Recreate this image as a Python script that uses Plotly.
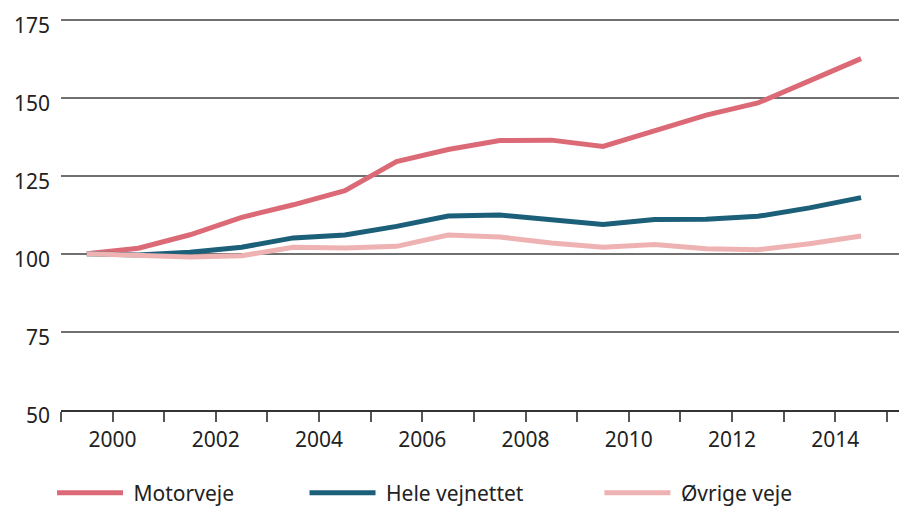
import plotly.graph_objects as go

# Index 2000 = 100
years = list(range(2000, 2016))
motorveje = [100, 101.8, 106.1, 111.7, 115.7, 120.2, 129.5, 133.4, 136.3, 136.4,
             134.4, 139.2, 144.4, 148.3, 155.5, 162.5]
hele_vejnettet = [100, 99.6, 100.5, 102.1, 105.1, 106.0, 108.8, 112.1, 112.4, 110.8,
                  109.4, 111.0, 111.1, 112.0, 114.7, 118.0]
oevrige_veje = [100, 99.3, 99.0, 99.4, 102.1, 101.9, 102.4, 106.0, 105.4, 103.5,
                102.1, 103.0, 101.6, 101.3, 103.2, 105.7]

series = [
    ("Motorveje", motorveje, "#dc6a76", 12),
    ("Hele vejnettet", hele_vejnettet, "#1b5f79", 13),
    ("Øvrige veje", oevrige_veje, "#efb2b2", 0),
]

tick_years = list(range(1999, 2016))
tick_text = [str(y) if y % 2 == 0 else "" for y in tick_years]

FONT = "Noto Sans"
NB = "\u00a0"

fig = go.Figure()
for name, vals, col, pad in series:
    # points sit in the middle of each year band; nbsp padding spaces the legend entries
    fig.add_trace(go.Scatter(x=[y - 0.5 for y in years], y=vals, name=NB + name + NB * pad,
                             mode="lines", line=dict(color=col, width=5)))

fig.update_xaxes(range=[1999, 2015.39], tickvals=tick_years, ticktext=tick_text,
                 showgrid=False, zeroline=False, showline=True, linecolor="#333333", linewidth=1.5,
                 ticks="outside", ticklen=10, tickwidth=1.5, tickcolor="#555555", automargin=False,
                 tickfont=dict(family=FONT, size=21, color="#222222"))
# labels sit slightly below their gridlines, as in the original
fig.update_yaxes(range=[50, 175.5], tickvals=[50, 75, 100, 125, 150, 175],
                 showgrid=True, gridcolor="#707070", gridwidth=1.5, zeroline=False,
                 showline=False, ticks="", ticklabelstandoff=10, ticklabelshift=6,
                 automargin=False, ticklabeloverflow="allow",
                 tickfont=dict(family=FONT, size=21, color="#222222"))

# page body has an 8px margin, so the figure is 8px smaller than the window
fig.update_layout(
    width=899, height=498,
    margin=dict(l=53, r=0, t=10, b=96),
    plot_bgcolor="white", paper_bgcolor="white",
    font=dict(family=FONT, size=21, color="#222222"),
    showlegend=True,
    legend=dict(orientation="h", xref="container", yref="container",
                x=0.049, xanchor="left", y=0.026, yanchor="middle",
                itemwidth=66, font=dict(family=FONT, size=21, color="#222222"),
                bgcolor="rgba(0,0,0,0)"),
)

fig.write_html("out.html")
